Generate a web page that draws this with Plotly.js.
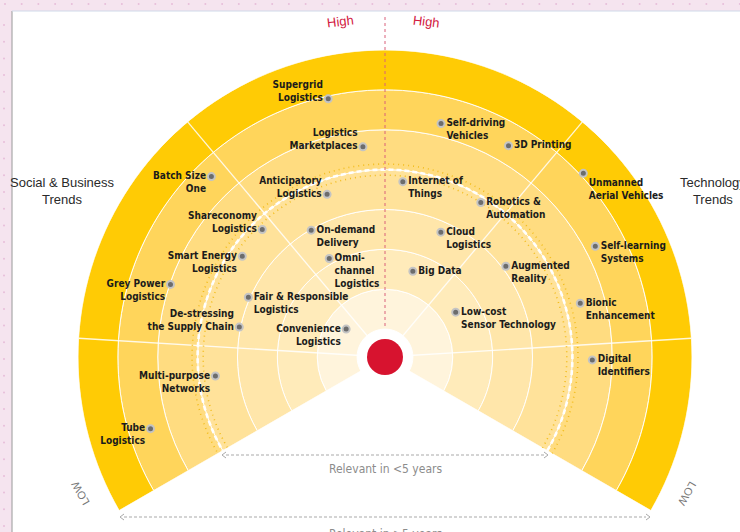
<!DOCTYPE html>
<html>
<head>
<meta charset="utf-8">
<script src="https://cdn.plot.ly/plotly-3.0.1.min.js"></script>
<style>html,body{margin:0;padding:0;background:#F5E4EF;}#chart{width:740px;height:532px;}</style>
</head>
<body>
<div id="chart"></div>
<script>
// ---------------- DATA ----------------
const trendNames = [
  "Supergrid Logistics","Logistics Marketplaces","Batch Size One","Anticipatory Logistics",
  "Shareconomy Logistics","On-demand Delivery","Smart Energy Logistics","Omni-channel Logistics",
  "Grey Power Logistics","Fair & Responsible Logistics","De-stressing the Supply Chain",
  "Convenience Logistics","Multi-purpose Networks","Tube Logistics",
  "Self-driving Vehicles","3D Printing","Unmanned Aerial Vehicles","Internet of Things",
  "Robotics & Automation","Cloud Logistics","Self-learning Systems","Big Data",
  "Augmented Reality","Low-cost Sensor Technology","Bionic Enhancement","Digital Identifiers"
];
const trendLabels = [
  "Supergrid<br>Logistics","Logistics<br>Marketplaces","Batch Size<br>One","Anticipatory<br>Logistics",
  "Shareconomy<br>Logistics","On-demand<br>Delivery","Smart Energy<br>Logistics","Omni-<br>channel<br>Logistics",
  "Grey Power<br>Logistics","Fair & Responsible<br>Logistics","De-stressing<br>the Supply Chain",
  "Convenience<br>Logistics","Multi-purpose<br>Networks","Tube<br>Logistics",
  "Self-driving<br>Vehicles","3D Printing","Unmanned<br>Aerial Vehicles","Internet of<br>Things",
  "Robotics &<br>Automation","Cloud<br>Logistics","Self-learning<br>Systems","Big Data",
  "Augmented<br>Reality","Low-cost<br>Sensor Technology","Bionic<br>Enhancement","Digital<br>Identifiers"
];
// angle in degrees (0 = right, counter-clockwise), relevance ring value (0 = centre ring edge, 7 = outer edge)
const trendTheta = [102.4, 96.0, 133.9, 109.6, 133.9, 120.2, 144.8, 119.5, 161.3, 156.4, 168.4, 144.3, 186.4, 197.0,
                    76.5, 59.7, 42.8, 84.2, 58.2, 65.9, 27.75, 72.0, 36.9, 32.4, 15.4, -0.8];
const trendR     = [5.93, 4.60, 5.58, 3.63, 3.74, 2.98, 3.68, 2.14, 4.98, 3.04, 3.03, 0.50, 3.58, 5.45,
                    5.32, 5.44, 6.08, 3.72, 3.86, 2.73, 5.26, 1.56, 3.09, 1.40, 4.38, 4.50];
const trendGroup = ["Social & Business","Social & Business","Social & Business","Social & Business",
  "Social & Business","Social & Business","Social & Business","Social & Business","Social & Business",
  "Social & Business","Social & Business","Social & Business","Social & Business","Social & Business",
  "Technology","Technology","Technology","Technology","Technology","Technology","Technology",
  "Technology","Technology","Technology","Technology","Technology"];
const ringEdges = [0, 1, 2, 3, 4, 5, 6, 7];
const fiveYearRing = 4;
const sectorDividers = [3.5, 50, 130, 176.5];
const fanSector = [-30, 210];
const categoryTitles = ["Social & Business<br>Trends", "Technology<br>Trends"];
const highLabel = "High", lowLabel = "LOW";
const relevantLabels = ["Relevant in &lt;5 years", "Relevant in &gt;5 years"];

// ---------------- STYLE ----------------
const W = 740, H = 532;
const px = x => x / W, py = y => 1 - y / H;
const ringColors = ["#FFF4DC", "#FFEBBA", "#FFE6AA", "#FFE29A", "#FFDC80", "#FFD55B", "#FFCB05"];
const labelSide = ["middle left","middle left","middle left","middle left","middle left","middle right",
  "middle left","middle right","middle left","middle right","middle left","middle left","middle left","middle left",
  "middle right","middle right","bottom right","middle right","middle right","middle right","middle right",
  "middle right","middle right","middle right","middle right","middle right"];
const anchorLine = [2,2,1,2,2,1,1,1,1,1,2,1,1,1, 1,1,1,1,1,1,1,1,1,1,1,1];
const labelFont = "'Liberation Sans Narrow', 'Arial Narrow', 'DejaVu Sans Condensed', sans-serif";

function padLabel(lbl, k, pos) {
  if (pos.indexOf('middle') !== 0) return lbl;
  const lines = lbl.split('<br>');
  const n = lines.length;
  const blank = '\u00a0';
  const above = (n - k) - (k - 1);
  const out = lines.slice();
  if (above > 0) for (let i = 0; i < above; i++) out.unshift(blank);
  else for (let i = 0; i < -above; i++) out.push(blank);
  return out.join('<br>');
}

const traces = [];
// rings
traces.push({
  type: 'barpolar',
  theta: ringEdges.slice(0, -1).map(() => (fanSector[0] + fanSector[1]) / 2),
  width: ringEdges.slice(0, -1).map(() => fanSector[1] - fanSector[0]),
  base: ringEdges.slice(0, -1),
  r: ringEdges.slice(1).map((e, i) => e - ringEdges[i]),
  marker: { color: ringColors, line: { color: 'rgba(255,255,255,0.9)', width: 1 } },
  hoverinfo: 'skip'
});
// sector dividers
sectorDividers.forEach(a => traces.push({
  type: 'scatterpolar', mode: 'lines', theta: [a, a], r: [-0.7, ringEdges[ringEdges.length - 1]],
  line: { color: 'rgba(255,255,255,0.85)', width: 1.3 }, hoverinfo: 'skip'
}));
// 5-year boundary
const arcTheta = [];
for (let t = fanSector[0]; t <= fanSector[1]; t += 1) arcTheta.push(t);
[fiveYearRing - 0.14, fiveYearRing + 0.14].forEach(rr => traces.push({
  type: 'scatterpolar', mode: 'lines', theta: arcTheta, r: arcTheta.map(() => rr),
  line: { color: '#F2BD1E', width: 1.6, dash: '1px,4px' }, hoverinfo: 'skip'
}));
traces.push({
  type: 'scatterpolar', mode: 'lines', theta: arcTheta, r: arcTheta.map(() => fiveYearRing),
  line: { color: '#FFFFFF', width: 2.6, dash: '5px,3px' }, hoverinfo: 'skip'
});
// centre
traces.push({
  type: 'scatterpolar', mode: 'markers', theta: [90], r: [-0.7],
  marker: { color: '#D7132F', size: 36, line: { width: 0 } }, hoverinfo: 'skip'
});
// trends
traces.push({
  type: 'scatterpolar', mode: 'markers+text',
  theta: trendTheta, r: trendR,
  text: trendLabels.map((l, i) => padLabel(l, anchorLine[i], labelSide[i])),
  textposition: labelSide,
  textfont: { family: labelFont, size: 10, color: '#1b1b1b', weight: 'bold' },
  marker: { color: '#6c6c6c', size: 7, line: { color: '#c4c4c4', width: 2 } },
  customdata: trendGroup, hovertext: trendNames, hoverinfo: 'skip'
});

// decorations
const shapes = [];
shapes.push({ type: 'rect', xref: 'paper', yref: 'paper', x0: px(12), x1: 1.01, y0: -0.01, y1: py(11),
  fillcolor: '#FFFFFF', line: { width: 0 }, layer: 'below' });
shapes.push({ type: 'line', xref: 'paper', yref: 'paper', x0: px(12), x1: px(12), y0: -0.01, y1: py(11),
  line: { color: '#A8A8A8', width: 1.2 }, layer: 'below' });
shapes.push({ type: 'line', xref: 'paper', yref: 'paper', x0: px(12), x1: 1.01, y0: py(11), y1: py(11),
  line: { color: '#CFD9EA', width: 1.2 }, layer: 'below' });
for (let x = 5; x < W; x += 16.7) {
  shapes.push({ type: 'circle', xref: 'paper', yref: 'paper', x0: px(x - 1), x1: px(x + 1), y0: py(5), y1: py(3),
    fillcolor: '#E7BEDA', line: { width: 0 }, layer: 'below' });
}
for (let y = 25; y < H; y += 16.7) {
  shapes.push({ type: 'circle', xref: 'paper', yref: 'paper', x0: px(3), x1: px(5), y0: py(y + 1), y1: py(y - 1),
    fillcolor: '#E7BEDA', line: { width: 0 }, layer: 'below' });
}
// red high axis line
shapes.push({ type: 'line', xref: 'paper', yref: 'paper', x0: px(385), x1: px(385), y0: py(17), y1: py(328),
  line: { color: '#D9607A', width: 1, dash: 'dot' }, layer: 'above' });
// relevance arrows
function arrowLine(x0, x1, y) {
  shapes.push({ type: 'line', xref: 'paper', yref: 'paper', x0: px(x0 + 4), x1: px(x1 - 4), y0: py(y), y1: py(y),
    line: { color: '#A9A9A9', width: 1, dash: '3px,2px' } });
  shapes.push({ type: 'path', xref: 'paper', yref: 'paper',
    path: `M ${px(x0 + 4)} ${py(y - 3)} L ${px(x0)} ${py(y)} L ${px(x0 + 4)} ${py(y + 3)}`,
    line: { color: '#A9A9A9', width: 1 } });
  shapes.push({ type: 'path', xref: 'paper', yref: 'paper',
    path: `M ${px(x1 - 4)} ${py(y - 3)} L ${px(x1)} ${py(y)} L ${px(x1 - 4)} ${py(y + 3)}`,
    line: { color: '#A9A9A9', width: 1 } });
}
arrowLine(222, 548, 455);
arrowLine(120, 650, 517);

const annFont = "'Liberation Sans Narrow', 'Arial Narrow', 'DejaVu Sans Condensed', sans-serif";
const base = { xref: 'paper', yref: 'paper', showarrow: false, xanchor: 'center', yanchor: 'middle' };
const annotations = [
  Object.assign({}, base, { text: categoryTitles[0], x: px(62), y: py(191), align: 'center',
    font: { family: "'Liberation Sans', Arial, sans-serif", size: 13, color: '#2a2a2a' } }),
  Object.assign({}, base, { text: categoryTitles[1], x: px(713), y: py(191), align: 'center',
    font: { family: "'Liberation Sans', Arial, sans-serif", size: 13, color: '#2a2a2a' } }),
  Object.assign({}, base, { text: highLabel, x: px(340), y: py(22), textangle: -7,
    font: { family: "'Liberation Sans', Arial, sans-serif", size: 13, color: '#D2173E' } }),
  Object.assign({}, base, { text: highLabel, x: px(426), y: py(21), textangle: 7,
    font: { family: "'Liberation Sans', Arial, sans-serif", size: 13, color: '#D2173E' } }),
  Object.assign({}, base, { text: lowLabel, x: px(80), y: py(493), textangle: -120,
    font: { family: "'Liberation Sans', Arial, sans-serif", size: 11, color: '#777' } }),
  Object.assign({}, base, { text: lowLabel, x: px(687), y: py(494), textangle: 120,
    font: { family: "'Liberation Sans', Arial, sans-serif", size: 11, color: '#777' } }),
  Object.assign({}, base, { text: relevantLabels[0], x: px(385), y: py(469),
    font: { family: annFont, size: 12, color: '#8C8C8C' } }),
  Object.assign({}, base, { text: relevantLabels[1], x: px(385), y: py(525), yanchor: 'top',
    font: { family: annFont, size: 12, color: '#8C8C8C' } })
];

const layout = {
  width: W, height: H, margin: { l: 0, r: 0, t: 0, b: 0, pad: 0 },
  paper_bgcolor: '#F5E4EF', showlegend: false, hovermode: false,
  polar: {
    domain: { x: [px(78), px(692)], y: [py(510.5), py(50)] },
    sector: fanSector, hole: 0, bgcolor: 'rgba(0,0,0,0)', barmode: 'overlay',
    radialaxis: { visible: false, range: [-0.7, 7], showgrid: false, showline: false },
    angularaxis: { visible: false, showgrid: false, showline: false, rotation: 0, direction: 'counterclockwise' }
  },
  shapes: shapes, annotations: annotations
};
Plotly.newPlot('chart', traces, layout, { staticPlot: true, displayModeBar: false });
</script>
</body>
</html>
